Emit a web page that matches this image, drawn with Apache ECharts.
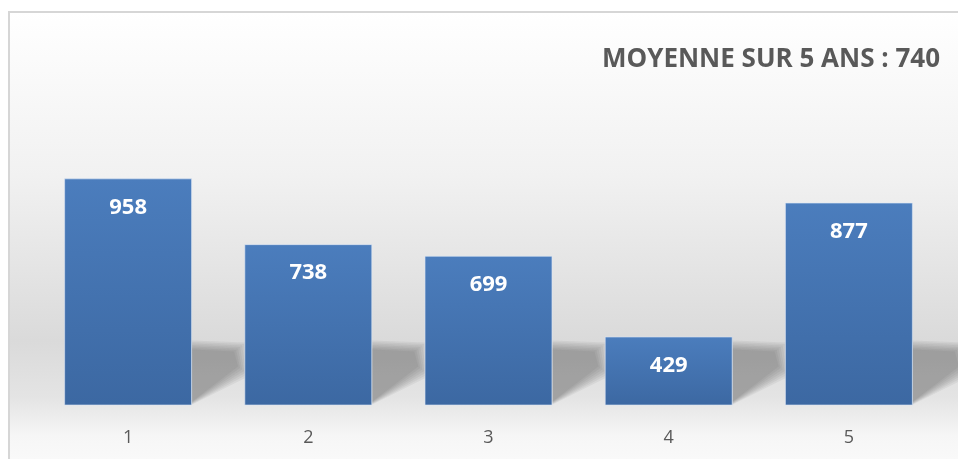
<!DOCTYPE html>
<html>
<head>
<meta charset="utf-8">
<script src="https://cdn.jsdelivr.net/npm/echarts@6/dist/echarts.min.js"></script>
<style>
    html, body { margin: 0; padding: 0; background: #fff; }
    #chart { width: 958px; height: 459px; }
</style>
</head>
<body>
<div id="chart"></div>
<script>
var categories = ['1', '2', '3', '4', '5'];
var values = [958, 738, 699, 429, 877];
var titleText = 'MOYENNE SUR 5 ANS : 740';

var chart = echarts.init(document.getElementById('chart'));

// ombre portée floue au pied de chaque barre (couches superposées)
function renderShadow(params, api) {
    var base = api.coord([api.value(0), 200]);
    var w = api.size([1, 0])[0] * 0.71;
    var x1 = base[0] + w / 2;
    var y0 = base[1];
    var layers = [];
    for (var k = 0; k < 7; k++) {
        var s = 7 - k;
        layers.push({
            type: 'polygon',
            shape: {
                points: [
                    [x1, y0 - 54 - s * 1.5],
                    [x1 + 40 + s * 2, y0 - 52 - s * 1.5],
                    [x1 + 44 + s * 2, y0 - 40 + s * 1.5],
                    [x1, y0 - 4 + s * 0.5]
                ]
            },
            style: { fill: 'rgba(70,70,70,0.07)' }
        });
    }
    return { type: 'group', children: layers };
}

var option = {
    backgroundColor: '#ffffff',
    animation: false,
    graphic: [{
        type: 'rect',
        z: -10,
        shape: { x: 9, y: 12, width: 970, height: 470 },
        style: {
            fill: new echarts.graphic.LinearGradient(0, 0, 0, 1, [
                { offset: 0, color: '#ffffff' },
                { offset: 0.35, color: '#f1f1f1' },
                { offset: 0.7, color: '#dadada' },
                { offset: 0.82, color: '#e4e4e4' },
                { offset: 0.9, color: '#f6f6f6' },
                { offset: 1, color: '#fcfcfc' }
            ]),
            stroke: '#d6d6d6',
            lineWidth: 2
        }
    }],
    title: {
        text: titleText,
        right: 13,
        top: 42,
        textStyle: {
            fontFamily: 'Open Sans',
            fontWeight: 'bold',
            fontSize: 26,
            color: '#595959'
        }
    },
    grid: { left: 38, right: 19, top: 106, bottom: 54 },
    xAxis: {
        type: 'category',
        data: categories,
        axisLine: { show: false },
        axisTick: { show: false },
        axisLabel: {
            margin: 24,
            fontFamily: 'Open Sans',
            fontSize: 18,
            color: '#595959'
        }
    },
    yAxis: {
        type: 'value',
        min: 200,
        max: 1200,
        show: false,
        splitLine: { show: false }
    },
    series: [{
        type: 'custom',
        renderItem: renderShadow,
        data: values.map(function (v, i) { return [i, v]; }),
        silent: true,
        z: 1
    }, {
        type: 'bar',
        data: values,
        barWidth: '71%',
        z: 2,
        itemStyle: {
            color: new echarts.graphic.LinearGradient(0, 0, 0, 1, [
                { offset: 0, color: '#4b7dbd' },
                { offset: 1, color: '#3c68a2' }
            ]),
            borderColor: 'rgba(220,230,245,0.6)',
            borderWidth: 1
        },
        label: {
            show: true,
            position: 'insideTop',
            distance: 18,
            fontFamily: 'Open Sans',
            fontWeight: 'bold',
            fontSize: 22,
            color: '#ffffff'
        }
    }]
};

chart.setOption(option);
</script>
</body>
</html>
